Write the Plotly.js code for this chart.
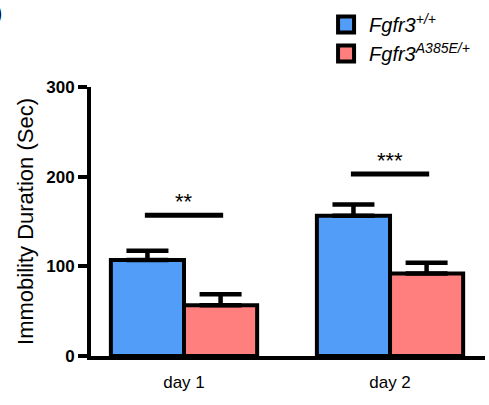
<!DOCTYPE html>
<html><head><meta charset="utf-8">
<script src="https://cdn.plot.ly/plotly-3.0.1.min.js"></script>
<style>html,body{margin:0;padding:0;background:#fff;}#chart{width:489px;height:405px;}</style>
</head><body><div id="chart"></div>
<script>
const categories = ['day 1', 'day 2'];
const seriesNames = ['Fgfr3<sup>+/+</sup>', 'Fgfr3<sup>A385E/+</sup>'];
const wildType = [107, 156.5];
const wildTypeSem = [10.5, 12.5];
const mutant = [56.5, 92];
const mutantSem = [12.5, 12];
const sigY = [157, 203];
const sigText = ['**', '***'];
const yTicks = [0, 100, 200, 300];
const yTitle = 'Immobility Duration (Sec)';

const colors = ['#529DF7', '#FF7F7F'];
const FONT = 'Arial, "Liberation Sans", sans-serif';
const bargap = 0.29;
const half = (1 - bargap) / 4;
const xRange = [-0.4515, 1.461];
const tickPos = [];
categories.forEach((c, i) => { tickPos.push(i - half, i + half); });

function barTrace(vals, sem, color, name) {
  return {
    type: 'bar', x: categories, y: vals, name: name, showlegend: false,
    marker: {color: color, line: {color: '#000', width: 4}},
    error_y: {type: 'data', array: sem, arrayminus: sem.map(() => 0), symmetric: false,
              color: '#000', thickness: 4.5, width: 21},
    hoverinfo: 'none'
  };
}
function legendTrace(color, name) {
  return {
    type: 'scatter', mode: 'markers', x: [null], y: [null], name: name,
    marker: {symbol: 'square', size: 16, color: color, line: {color: '#000', width: 4}}
  };
}

const data = [
  barTrace(wildType, wildTypeSem, colors[0], seriesNames[0]),
  barTrace(mutant, mutantSem, colors[1], seriesNames[1]),
  legendTrace(colors[0], seriesNames[0]),
  legendTrace(colors[1], seriesNames[1])
];

const shapes = sigY.map((y, i) => ({
  type: 'line', xref: 'x', yref: 'y', x0: i - 0.19, x1: i + 0.19, y0: y, y1: y,
  line: {color: '#000', width: 5}
}));
const annotations = sigText.map((t, i) => ({
  text: t, x: i, y: sigY[i], xref: 'x', yref: 'y', showarrow: false,
  yanchor: 'bottom', yshift: -1, font: {size: 22, color: '#000'}
}));
annotations.push({text: ')', xref: 'paper', yref: 'paper', x: -0.248, y: 1.33,
  xanchor: 'left', yanchor: 'top', showarrow: false, font: {size: 22, color: '#000'}});

const layout = {
  width: 489, height: 405,
  margin: {l: 91, r: 4, t: 87, b: 49},
  paper_bgcolor: '#fff', plot_bgcolor: '#fff',
  font: {family: FONT, color: '#000'},
  barmode: 'group', bargap: bargap,
  showlegend: true,
  legend: {x: 0.589, y: 1.305, xanchor: 'left', yanchor: 'top', bgcolor: 'rgba(0,0,0,0)',
           font: {size: 20, style: 'italic', color: '#000'}, tracegroupgap: 0, itemwidth: 36},
  xaxis: {type: 'category', range: xRange, showline: true, linewidth: 4, linecolor: '#000',
          ticks: '', tickfont: {size: 17}, ticklabelstandoff: 8,
          showgrid: false, zeroline: false, fixedrange: true},
  xaxis2: {overlaying: 'x', anchor: 'y', side: 'bottom', type: 'linear', range: xRange,
           tickmode: 'array', tickvals: tickPos, showticklabels: false,
           ticks: 'outside', ticklen: 8, tickwidth: 3, tickcolor: '#000',
           showline: false, showgrid: false, zeroline: false, fixedrange: true},
  yaxis: {range: [0, 300], tickmode: 'array', tickvals: yTicks, ticks: 'outside', ticklen: 9,
          tickwidth: 4, tickcolor: '#000', showline: true, linewidth: 4, linecolor: '#000',
          tickfont: {size: 17, weight: 'bold'}, showgrid: false, zeroline: false, fixedrange: true,
          title: {text: yTitle, font: {size: 22}, standoff: 8}},
  shapes: shapes,
  annotations: annotations
};
Plotly.newPlot('chart', data, layout, {displayModeBar: false, staticPlot: true});
</script></body></html>
